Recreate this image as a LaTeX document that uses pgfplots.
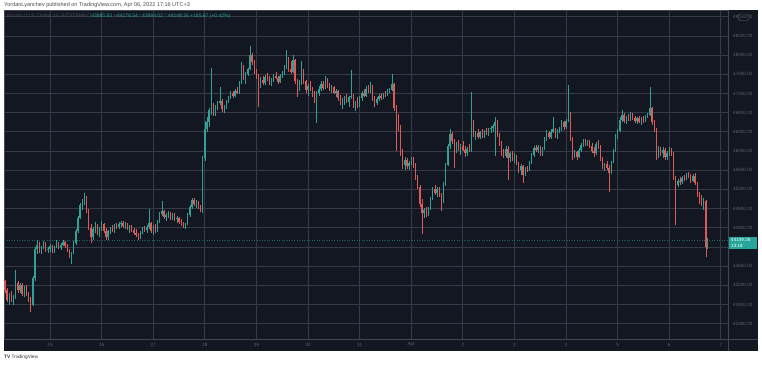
\documentclass[border=0pt]{standalone}
\usepackage{fontspec}
\setmainfont{Liberation Sans}
\usepackage{pgfplots}
\usepackage{pgfplotstable}
\pgfplotsset{compat=1.18}
\definecolor{bg}{HTML}{131722}
\definecolor{gridc}{HTML}{363A46}
\definecolor{sepc}{HTML}{434753}
\definecolor{upc}{HTML}{26A69A}
\definecolor{dnc}{HTML}{EF5350}
\definecolor{lbl}{HTML}{5D606B}
\pgfplotstableread{
h o hi lo c
3 43280 43320 43050 43100
4 43100 43150 42850 42900
5 42900 43050 42800 43000
6 43000 43080 42850 42880
7 42880 43000 42780 42950
8 42950 43520 42920 43250
9 43250 43300 43050 43100
10 43100 43250 43030 43200
11 43200 43240 42980 43020
12 43020 43180 42950 43150
13 43150 43200 42980 43000
14 43000 43060 42850 42900
15 42900 42960 42650 42780
16 42780 43400 42760 43350
17 43350 44000 43300 43950
18 43950 44150 43850 44050
19 44050 44100 43880 43920
20 43920 44020 43850 43990
21 43990 44120 43950 44080
22 44080 44100 43900 43940
23 43940 44000 43870 43960
24 43960 44060 43900 44020
25 44020 44050 43880 43910
26 43910 44010 43880 43990
27 43990 44140 43970 44090
28 44090 44110 43950 43980
29 43980 44080 43930 44050
30 44050 44150 44010 44100
31 44100 44130 43980 44010
32 44010 44060 43900 43930
33 43930 43960 43780 43820
34 43820 43900 43640 43880
35 43880 44120 43860 44080
36 44080 44380 44050 44330
37 44330 44650 44300 44600
38 44600 44920 44580 44880
39 44880 45000 44780 44950
40 44950 45120 44880 45020
41 45020 45060 44700 44750
42 44750 44800 44350 44400
43 44400 44480 44080 44200
44 44200 44420 44150 44380
45 44380 44520 44300 44450
46 44450 44480 44250 44300
47 44300 44420 44200 44400
48 44400 44540 44340 44480
49 44480 44500 44300 44340
50 44340 44400 44150 44200
51 44200 44360 44140 44330
52 44330 44420 44280 44380
53 44380 44460 44320 44350
54 44350 44470 44300 44440
55 44440 44500 44380 44410
56 44410 44520 44370 44480
57 44480 44550 44420 44500
58 44500 44540 44400 44430
59 44430 44520 44380 44470
60 44470 44500 44350 44380
61 44380 44450 44300 44420
62 44420 44460 44320 44350
63 44350 44400 44250 44300
64 44300 44380 44200 44240
65 44240 44300 44150 44190
66 44190 44330 44170 44300
67 44300 44420 44260 44380
68 44380 44440 44320 44350
69 44350 44450 44300 44420
70 44420 44800 44380 44500
71 44500 44520 44300 44330
72 44330 44460 44250 44420
73 44420 44480 44300 44350
74 44350 44560 44320 44520
75 44520 44720 44500 44680
76 44680 44950 44640 44740
77 44740 44780 44580 44620
78 44620 44700 44540 44660
79 44660 44740 44600 44700
80 44700 44720 44560 44600
81 44600 44700 44560 44680
82 44680 44700 44540 44580
83 44580 44640 44500 44600
84 44600 44620 44480 44520
85 44520 44580 44440 44480
86 44480 44520 44400 44430
87 44430 44500 44380 44480
88 44480 44700 44460 44660
89 44660 44880 44620 44840
90 44840 45030 44800 44980
91 44980 45020 44860 44900
92 44900 44980 44820 44940
93 44940 44960 44800 44840
94 44840 44880 44720 44760
95 44760 45900 44700 45850
96 45850 46630 45800 46450
97 46450 46700 46400 46600
98 46600 46900 46500 46850
99 46850 47740 46750 46950
100 46950 47000 46720 46780
101 46780 46950 46740 46900
102 46900 47050 46860 47000
103 47000 47325 46950 47050
104 47050 47080 46820 46870
105 46870 46950 46800 46920
106 46920 47060 46880 47030
107 47030 47150 47000 47120
108 47120 47260 47080 47220
109 47220 47250 47100 47150
110 47150 47300 47120 47260
111 47260 47340 47180 47200
112 47200 47450 47190 47420
113 47420 47850 47400 47760
114 47760 47790 47480 47520
115 47520 47650 47400 47600
116 47600 47740 47560 47700
117 47700 48190 47680 48000
118 48000 48050 47800 47850
119 47850 47900 47600 47650
120 47650 47700 47500 47550
121 47550 47600 46910 47350
122 47350 47550 47320 47480
123 47480 47560 47380 47420
124 47420 47580 47380 47540
125 47540 47620 47460 47500
126 47500 47560 47380 47420
127 47420 47520 47360 47480
128 47480 47600 47440 47570
129 47570 47640 47500 47520
130 47520 47560 47400 47440
131 47440 47600 47420 47560
132 47560 47660 47520 47620
133 47620 47800 47580 47760
134 47760 48100 47720 47900
135 47900 47950 47650 47700
136 47700 47880 47600 47650
137 47650 48000 47620 47900
138 47900 47920 47400 47450
139 47450 47500 47120 47300
140 47300 47480 47250 47420
141 47420 47880 47380 47700
142 47700 47720 47400 47450
143 47450 47480 47200 47280
144 47280 47400 47150 47350
145 47350 47460 47250 47300
146 47300 47340 47120 47180
147 47180 47250 47000 47100
148 47100 47250 46580 47200
149 47200 47350 47150 47300
150 47300 47450 47250 47400
151 47400 47460 47280 47320
152 47320 47570 47300 47480
153 47480 47520 47320 47360
154 47360 47420 47250 47300
155 47300 47380 47200 47340
156 47340 47360 47180 47220
157 47220 47300 47120 47260
158 47260 47280 47050 47100
159 47100 47160 46950 47000
160 47000 47100 46880 47050
161 47050 47150 46950 47100
162 47100 47190 47000 47020
163 47020 47150 46920 47120
164 47120 47690 47080 47150
165 47150 47180 46900 46950
166 46950 47050 46840 47000
167 47000 47120 46900 46960
168 46960 47150 46920 47100
169 47100 47250 47050 47200
170 47200 47300 47120 47150
171 47150 47360 47120 47300
172 47300 47380 47200 47250
173 47250 47430 47200 47350
174 47350 47380 47050 47100
175 47100 47150 46910 47000
176 47000 47120 46950 47080
177 47080 47180 47040 47150
178 47150 47200 47060 47100
179 47100 47220 47080 47180
180 47180 47250 47120 47160
181 47160 47300 47140 47260
182 47260 47320 47200 47280
183 47280 47600 47250 47400
184 47400 47420 46840 46900
185 46900 46950 46010 46600
186 46600 46770 46420 46500
187 46500 46550 45900 46000
188 46000 46050 45620 45700
189 45700 45880 45600 45820
190 45820 45860 45620 45680
191 45680 45800 45600 45760
192 45760 45880 45700 45850
193 45850 45870 45640 45700
194 45700 45740 45400 45450
195 45450 45500 45200 45250
196 45250 45300 44830 44900
197 44900 45000 44264 44700
198 44700 44820 44600 44780
199 44780 44830 44620 44680
200 44680 44840 44640 44800
201 44800 45050 44780 45000
202 45000 45260 44980 45200
203 45200 45290 45080 45120
204 45120 45250 45040 45200
205 45200 45240 45050 45080
206 45080 45120 44760 44950
207 44950 45350 44920 45300
208 45300 45750 45280 45700
209 45700 46150 45680 46100
210 46100 46450 46050 46350
211 46350 46400 46150 46200
212 46200 46250 45650 46050
213 46050 46180 45950 46120
214 46120 46220 46000 46040
215 46040 46150 45920 46100
216 46100 46200 46000 46020
217 46020 46100 45880 45950
218 45950 46080 45900 46050
219 46050 46150 45980 46000
220 46000 47240 45980 46500
221 46500 46650 46300 46350
222 46350 46420 46240 46380
223 46380 46450 46260 46300
224 46300 46420 46250 46400
225 46400 46460 46280 46320
226 46320 46440 46280 46420
227 46420 46480 46340 46380
228 46380 46480 46320 46450
229 46450 46520 46380 46480
230 46480 46560 46400 46520
231 46520 46700 45900 46600
232 46600 46640 46300 46350
233 46350 46380 46100 46150
234 46150 46200 45900 45950
235 45950 46050 45850 45900
236 45900 46100 45850 46050
237 46050 46100 45400 45850
238 45850 45990 45780 45950
239 45950 46000 45800 45850
240 45850 45960 45750 45900
241 45900 45920 45700 45750
242 45750 45780 45550 45600
243 45600 45720 45500 45680
244 45680 45700 45330 45500
245 45500 45660 45480 45620
246 45620 45680 45560 45600
247 45600 45800 45580 45750
248 45750 45960 45720 45920
249 45920 46100 45880 46060
250 46060 46130 45980 46020
251 46020 46120 45950 46080
252 46080 46100 45900 45950
253 45950 46080 45890 46050
254 46050 46300 46020 46250
255 46250 46430 46200 46380
256 46380 46420 46260 46300
257 46300 46450 46260 46400
258 46400 46710 46380 46450
259 46450 46480 46280 46320
260 46320 46460 46260 46420
261 46420 46500 46380 46460
262 46460 46640 46420 46600
263 46600 46620 46440 46500
264 46500 46660 46460 46620
265 46620 47380 46600 46800
266 46800 46820 46200 46250
267 46250 46300 45815 45900
268 45900 46020 45850 45980
269 45980 46000 45820 45880
270 45880 46060 45860 46020
271 46020 46160 45980 46120
272 46120 46250 46080 46200
273 46200 46260 46100 46150
274 46150 46240 46100 46220
275 46220 46240 46060 46100
276 46100 46160 45950 46000
277 46000 46080 45880 45950
278 45950 46180 45920 46150
279 46150 46230 46050 46080
280 46080 46120 45800 45850
281 45850 45880 45620 45680
282 45680 45760 45580 45720
283 45720 45800 45600 45640
284 45640 45700 45140 45550
285 45550 45800 45520 45760
286 45760 46050 45740 46000
287 46000 46350 45980 46300
288 46300 46450 46250 46420
289 46420 46700 46400 46650
290 46650 46850 46600 46750
291 46750 46800 46580 46620
292 46620 46720 46560 46700
293 46700 46780 46620 46650
294 46650 46810 46620 46760
295 46760 46800 46640 46680
296 46680 46740 46580 46620
297 46620 46700 46560 46680
298 46680 46720 46580 46600
299 46600 46700 46540 46660
300 46660 46720 46580 46620
301 46620 46760 46600 46720
302 46720 46800 46680 46760
303 46760 47340 46740 46900
304 46900 46920 46550 46600
305 46600 46640 46400 46450
306 46450 46480 45815 45900
307 45900 46100 45850 46050
308 46050 46090 45900 45950
309 45950 46080 45850 46020
310 46020 46060 45820 45880
311 45880 46000 45820 45960
312 45960 46090 45900 46040
313 46040 46060 45900 45950
314 45950 45980 45400 45450
315 45450 45480 44450 45300
316 45300 45420 45260 45380
317 45380 45460 45300 45350
318 45350 45480 45320 45440
319 45440 45500 45380 45420
320 45420 45540 45400 45500
321 45500 45560 45440 45460
322 45460 45520 45340 45380
323 45380 45520 45360 45480
324 45480 45550 45300 45340
325 45340 45360 45050 45100
326 45100 45150 44900 45000
327 45000 45080 44850 44880
328 44880 45020 44780 44950
329 44950 44980 43790 43990
329.7 43986 44177 43964 44149
}\btc
\pgfplotsset{candle/.style={forget plot, only marks, mark=none, mark size=0pt,
  mark options={draw=none, fill=none},
  error bars/.cd, y dir=plus, y explicit, error mark=none}}
\begin{document}
\begin{tikzpicture}[x=1pt,y=1pt]
\fill[white] (0,0) rectangle (762,365);
\fill[bg] (4,14) rectangle (758,355);
\begin{axis}[
  at={(4pt,26pt)}, anchor=south west,
  scale only axis, width=724pt, height=329pt,
  xmin=2.6, xmax=339.35, ymin=42081, ymax=48940,
  scaled y ticks=false, scaled x ticks=false,
  axis line style={draw=sepc, line width=0.7pt},
  grid=major, major grid style={draw=gridc, line width=0.7pt},
  xtick={24,48,...,336},
  xticklabels={25,26,27,28,29,30,31,Apr,2,3,4,5,6,7},
  ytick={42400,42800,...,48800},
  yticklabels={42400.00,42800.00,43200.00,43600.00,{},44400.00,44800.00,45200.00,45600.00,46000.00,46400.00,46800.00,47200.00,47600.00,48000.00,48400.00,48800.00},
  yticklabel pos=right,
  tick style={draw=none},
  ticklabel style={font=\fontsize{4.6}{5}\selectfont, text=lbl},
  xticklabel style={anchor=center, yshift=-5.5pt},
  yticklabel style={anchor=west, inner sep=0pt, xshift=5pt},
]
\addplot[upc!55!bg, line width=0.5pt, dotted, forget plot] coordinates {(2.6,44149.26) (339.35,44149.26)};
% up wicks
\addplot[candle, error bar style={draw=upc!85!gray, line width=0.45pt}]
  table[x=h, y expr={\thisrow{c}>=\thisrow{o} ? \thisrow{lo} : nan},
        y error plus expr={\thisrow{hi}-\thisrow{lo}}] {\btc};
% down wicks
\addplot[candle, error bar style={draw=dnc!85!gray, line width=0.45pt}]
  table[x=h, y expr={\thisrow{c}<\thisrow{o} ? \thisrow{lo} : nan},
        y error plus expr={\thisrow{hi}-\thisrow{lo}}] {\btc};
% up bodies
\addplot[candle, error bar style={draw=upc!85!gray, line width=1.3pt}]
  table[x=h, y expr={\thisrow{c}>=\thisrow{o} ? \thisrow{o} : nan},
        y error plus expr={\thisrow{c}-\thisrow{o}}] {\btc};
% down bodies
\addplot[candle, error bar style={draw=dnc!85!gray, line width=1.3pt}]
  table[x=h, y expr={\thisrow{c}<\thisrow{o} ? \thisrow{c} : nan},
        y error plus expr={\thisrow{o}-\thisrow{c}}] {\btc};
\end{axis}
% price axis separator
\draw[sepc, line width=0.7pt] (728,14) -- (728,355);
\draw[sepc, line width=0.7pt] (728,26) -- (758,26);
% current price label
\fill[upc] (729,115.7) rectangle (757,128.3);
\node[anchor=west, inner sep=0pt, text=white, font=\fontsize{4.6}{5}\selectfont] at (731,125.2) {44149.26};
\node[anchor=west, inner sep=0pt, text=white, font=\fontsize{4.6}{5}\selectfont] at (731,119.0) {13:18};
% USD box
\filldraw[fill=bg, draw=lbl, line width=0.4pt, rounded corners=1.5pt] (738.5,344.5) rectangle (749,351);
\node[inner sep=0pt, text=lbl, font=\fontsize{3.8}{4}\selectfont] at (743.75,347.8) {USD};
% header
\node[anchor=west, inner sep=0pt, text=black!70, font=\fontsize{5.5}{6}\selectfont] at (4,360) {YordanLyanchev published on TradingView.com, Apr 06, 2022 17:16 UTC+3};
\node[anchor=west, inner sep=0pt, font=\fontsize{5}{6}\selectfont] at (7,349) {\textcolor{lbl!70!bg}{Bitcoin / U.S. Dollar, 15, BITSTAMP}\ \textcolor{lbl!70!bg}{O}\textcolor{upc}{43985.93} \textcolor{lbl!70!bg}{H}\textcolor{upc}{44176.54} \textcolor{lbl!70!bg}{L}\textcolor{upc}{43964.02} \textcolor{lbl!70!bg}{C}\textcolor{upc}{44149.26} \textcolor{upc}{+185.67 (+0.42\%)}};
% footer
\node[anchor=west, inner sep=0pt, text=black!80, font=\fontsize{4.8}{5}\selectfont] at (4,8) {\textbf{TV}\ TradingView};
\end{tikzpicture}
\end{document}
